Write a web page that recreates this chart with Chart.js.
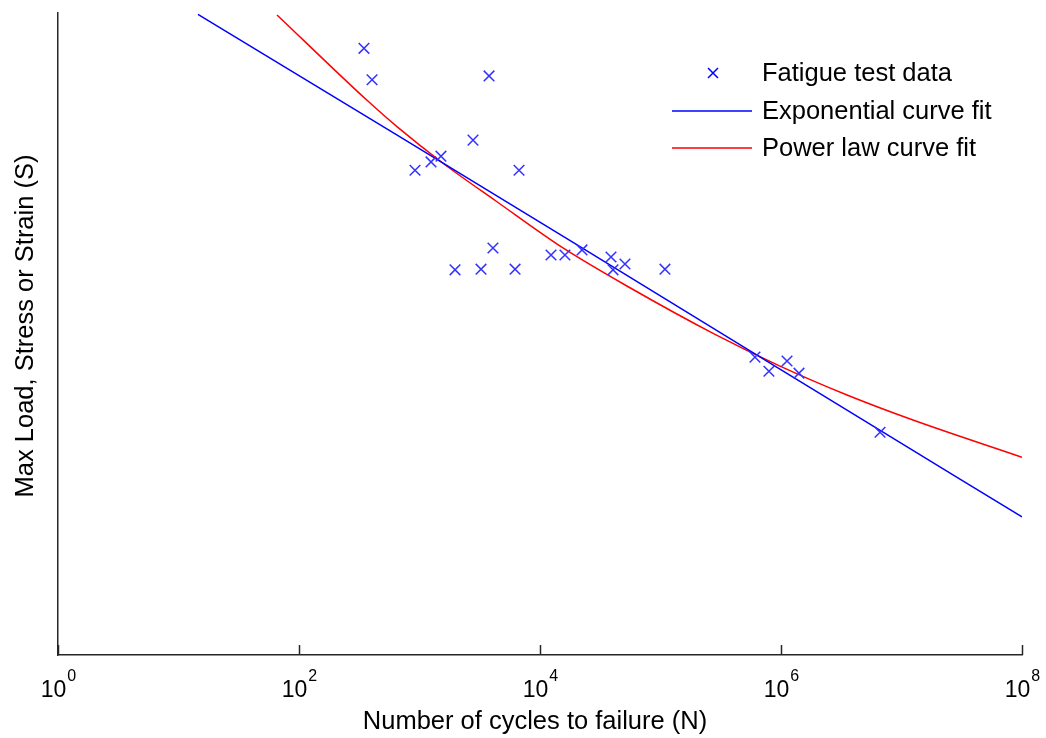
<!DOCTYPE html>
<html>
<head>
<meta charset="utf-8">
<script src="https://cdn.jsdelivr.net/npm/chart.js@4.4.0/dist/chart.umd.min.js"></script>
<style>
    html, body { margin: 0; padding: 0; background: #fff; }
    #wrap { width: 1046px; height: 738px; }
</style>
</head>
<body>
<div id="wrap"><canvas id="fatigueChart"></canvas></div>
<script>
// fatigue test data (cycles N, max load S in arbitrary units)
var testCycles = [346, 404, 3776, 2780, 918, 1246, 1507, 6700, 1972, 3240, 4070, 6210,
    12340, 16110, 22320, 38830, 40360, 50720, 108900, 608000, 794000, 1122000, 1410000, 6637000];
var testLoad = [94.5, 89.6, 90.2, 80.2, 75.5, 76.8, 77.7, 75.5, 60.0, 60.1, 63.4, 60.1,
    62.3, 62.3, 63.1, 62.0, 60.0, 60.9, 60.1, 46.4, 44.2, 45.8, 43.9, 34.7];

// exponential curve fit
var expCycles = [14.5, 663, 21480, 608000, 31770000, 1e8];
var expLoad = [99.8, 80.9, 63.6, 46.9, 27.2, 21.5];

// power law curve fit
var powCycles = [65.7, 367, 650, 1567, 4395, 15520, 55800, 273000, 981000, 3530000, 12450000, 1e8];
var powLoad = [99.7, 86.4, 82.3, 76.6, 70.6, 63.4, 57.2, 50.1, 45.0, 40.5, 36.6, 30.8];

var xTickExps = [0, 2, 4, 6, 8];
var seriesNames = ["Fatigue test data", "Exponential curve fit", "Power law curve fit"];
var xTitle = "Number of cycles to failure (N)";
var yTitle = "Max Load, Stress or Strain (S)";

var FONT = '"Liberation Sans", Arial, sans-serif';

function pairs(xs, ys) {
    return xs.map((x, i) => ({ x: x, y: ys[i] }));
}

// tick labels, inward tick marks, axis titles and legend (MATLAB look)
var matlabDecor = {
    id: "matlabDecor",
    afterDraw: function (chart) {
        var ctx = chart.ctx;
        var xs = chart.scales.x;
        var area = chart.chartArea;
        ctx.save();

        // inward tick marks on the x axis
        ctx.strokeStyle = "#262626";
        ctx.lineWidth = 1.5;
        xTickExps.forEach(function (e) {
            var px = Math.round(xs.getPixelForValue(Math.pow(10, e))) + 0.5;
            ctx.beginPath();
            ctx.moveTo(px, area.bottom);
            ctx.lineTo(px, area.bottom - 10);
            ctx.stroke();
        });

        // tick labels 10^e
        ctx.fillStyle = "#000";
        ctx.textBaseline = "alphabetic";
        xTickExps.forEach(function (e) {
            var px = xs.getPixelForValue(Math.pow(10, e));
            ctx.font = "23px " + FONT;
            var wBase = ctx.measureText("10").width;
            ctx.font = "16px " + FONT;
            var wExp = ctx.measureText(String(e)).width;
            var left = px - (wBase + wExp) / 2;
            ctx.font = "23px " + FONT;
            ctx.textAlign = "left";
            ctx.fillText("10", left, 697);
            ctx.font = "16px " + FONT;
            ctx.fillText(String(e), left + wBase + 1, 681);
        });

        // axis titles
        ctx.font = "25.5px " + FONT;
        ctx.textAlign = "center";
        ctx.fillText(xTitle, 535, 729);
        ctx.save();
        ctx.translate(33, 326);
        ctx.rotate(-Math.PI / 2);
        ctx.fillText(yTitle, 0, 0);
        ctx.restore();

        // legend
        var rows = [73, 111, 148];
        ctx.textAlign = "left";
        ctx.textBaseline = "middle";
        ctx.font = "25.5px " + FONT;
        rows.forEach(function (y, i) {
            var ds = chart.data.datasets[i];
            ctx.strokeStyle = ds.borderColor;
            ctx.lineWidth = 1.5;
            ctx.beginPath();
            if (i === 0) {
                ctx.moveTo(708, y - 5); ctx.lineTo(718, y + 5);
                ctx.moveTo(718, y - 5); ctx.lineTo(708, y + 5);
            } else {
                ctx.moveTo(672, y); ctx.lineTo(752, y);
            }
            ctx.stroke();
            ctx.fillStyle = "#000";
            ctx.fillText(seriesNames[i], 762, y + 1);
        });

        ctx.restore();
    }
};

var ctx = document.getElementById("fatigueChart").getContext("2d");
new Chart(ctx, {
    type: "scatter",
    data: {
        datasets: [
            {
                label: seriesNames[0],
                data: pairs(testCycles, testLoad),
                showLine: false,
                pointStyle: "crossRot",
                pointRadius: 7.5,
                pointBorderWidth: 1.5,
                borderColor: "#0000ff",
                backgroundColor: "#0000ff",
                pointBorderColor: "#3333ff",
                order: 0
            },
            {
                label: seriesNames[1],
                data: pairs(expCycles, expLoad),
                showLine: true,
                pointRadius: 0,
                borderWidth: 1.5,
                borderColor: "#0000ff",
                tension: 0,
                order: 1
            },
            {
                label: seriesNames[2],
                data: pairs(powCycles, powLoad),
                showLine: true,
                pointRadius: 0,
                borderWidth: 1.5,
                borderColor: "#ff0000",
                cubicInterpolationMode: "monotone",
                order: 2
            }
        ]
    },
    options: {
        responsive: true,
        maintainAspectRatio: false,
        animation: false,
        layout: { padding: { left: 58, right: 24, top: 13, bottom: 83 } },
        plugins: {
            legend: { display: false },
            tooltip: { enabled: false }
        },
        scales: {
            x: {
                type: "logarithmic",
                min: 1,
                max: 1e8,
                grid: { display: false, drawTicks: false },
                border: { display: true, color: "#262626", width: 1.5 },
                ticks: { display: false },
                title: { display: false }
            },
            y: {
                type: "linear",
                min: 0,
                max: 100,
                grid: { display: false, drawTicks: false },
                border: { display: true, color: "#262626", width: 1.5 },
                ticks: { display: false },
                title: { display: false }
            }
        }
    },
    plugins: [matlabDecor]
});
</script>
</body>
</html>
